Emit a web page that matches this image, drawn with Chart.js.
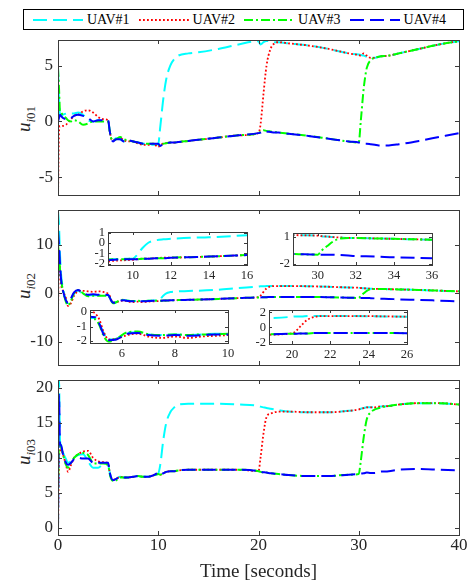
<!DOCTYPE html>
<html>
<head>
<meta charset="utf-8">
<script src="https://cdn.jsdelivr.net/npm/chart.js@4.4.0/dist/chart.umd.min.js"></script>
<style>
  body { margin: 0; background: #fff; }
  #fig { position: relative; width: 468px; height: 585px; overflow: hidden; font-family: "Liberation Serif", serif; color: #262626; }
  #fig canvas { position: absolute; }
  .ylab { position: absolute; left: 26px; transform: translate(-50%, -50%) rotate(-90deg); white-space: nowrap; font-size: 19px; }
  .ylab sub { font-size: 13px; }
  #legend { position: absolute; left: 23px; top: 9px; width: 430px; height: 19px; border: 1px solid #000; background: #fff;
            display: flex; align-items: center; gap: 9px; padding-left: 9px; font-size: 14px; color: #000; z-index: 5; }
  #legend .item { display: flex; align-items: center; gap: 4px; }
</style>
</head>
<body>
<div id="fig">
  <div id="legend"></div>
  <div class="ylab" style="top:119px"><i>u</i><sub><i>i</i>01</sub></div>
  <div class="ylab" style="top:286px"><i>u</i><sub><i>i</i>02</sub></div>
  <div class="ylab" style="top:452px"><i>u</i><sub><i>i</i>03</sub></div>
</div>
<script>
// time samples (seconds), shared by all series
const time = [0, 0.1, 0.2, 0.3, 0.5, 0.8, 1.0, 1.3, 1.6, 2.0,
              2.5, 3.0, 3.5, 4.0, 4.5, 5.0, 5.15, 5.3, 5.5, 5.8,
              6.2, 6.6, 7.0, 7.5, 8.0, 8.5, 9.0, 9.5, 10.0, 10.2,
              10.5, 10.8, 11.2, 11.6, 12.0, 13, 14, 16, 18, 20.0,
              20.2, 20.5, 20.8, 21.2, 21.6, 22, 23, 25, 27, 29,
              30.0, 30.2, 30.5, 30.8, 31.2, 31.6, 32, 33, 34, 36,
              38, 40];

// u_i01
const u1_uav1 = [4.8, 2.0, 0.6, 0.5, 0.6, 0.7, 0.75, 0.7, 0.7, 0.8,
                 0.6, 0.1, 0.0, 0.1, 0.0, 0.0, -0.8, -1.5, -1.7, -1.5,
                 -1.6, -1.8, -1.7, -1.8, -1.9, -2.0, -2.0, -2.1, -2.0, -0.5,
                 2.0, 3.8, 5.0, 5.6, 5.9, 6.1, 6.2, 6.5, 6.9, 7.2,
                 6.9, 7.1, 7.2, 7.2, 7.1, 7.1, 7.0, 6.8, 6.5, 6.1,
                 6.0, 5.95, 5.9, 5.8, 5.7, 5.7, 5.8, 5.9, 6.1, 6.5,
                 6.9, 7.2];
const u1_uav2 = [-7, -1.0, -0.4, -0.4, -0.4, -0.3, -0.1, 0.2, 0.5, 0.6,
                 0.9, 1.0, 0.8, 0.4, 0.2, 0.1, -0.8, -1.5, -1.7, -1.6,
                 -1.5, -1.7, -1.8, -1.8, -2.0, -2.1, -2.1, -2.0, -2.3, -2.1,
                 -2.0, -1.95, -1.9, -1.9, -1.85, -1.75, -1.65, -1.45, -1.25, -1.05,
                 -0.3, 2.5, 5.0, 6.5, 7.0, 7.1, 7.0, 6.8, 6.5, 6.1,
                 5.95, 5.9, 6.1, 5.9, 5.7, 5.7, 5.8, 5.9, 6.1, 6.5,
                 6.9, 7.2];
const u1_uav3 = [4.8, 3.0, 0.9, 0.8, 0.5, 0.3, 0.1, 0.0, 0.1, 0.0,
                 -0.3, -0.2, 0.0, 0.0, 0.0, 0.0, -0.8, -1.5, -1.7, -1.6,
                 -1.4, -1.6, -1.7, -1.8, -1.9, -2.0, -2.0, -2.0, -2.1, -2.0,
                 -2.0, -1.95, -1.9, -1.9, -1.85, -1.75, -1.65, -1.45, -1.25, -1.05,
                 -0.95, -0.8, -0.85, -0.9, -0.95, -1.0, -1.1, -1.3, -1.55, -1.8,
                 -1.9, 0.0, 3.0, 4.8, 5.5, 5.7, 5.8, 5.9, 6.1, 6.5,
                 6.9, 7.2];
const u1_uav4 = [0.0, 0.3, 0.6, 0.5, 0.3, 0.2, 0.2, 0.3, 0.5, 0.6,
                 0.5, 0.3, 0.0, 0.1, 0.1, 0.1, -0.8, -1.5, -1.8, -1.6,
                 -1.6, -1.8, -1.7, -1.8, -1.9, -2.0, -2.0, -2.0, -2.0, -2.2,
                 -2.0, -1.95, -1.9, -1.9, -1.85, -1.75, -1.65, -1.45, -1.25, -1.05,
                 -1.0, -0.85, -0.9, -0.95, -1.0, -1.0, -1.1, -1.3, -1.55, -1.8,
                 -1.9, -1.95, -2.0, -2.0, -2.05, -2.1, -2.15, -2.15, -2.05, -1.75,
                 -1.4, -1.05];

// u_i02
const u2_uav1 = [17, 14, 8, 4, 1, -1.5, -2.0, -1.2, 0.0, 0.6,
                 -0.2, -0.4, -0.4, -0.4, -0.4, -0.4, -0.8, -1.4, -1.9, -1.85,
                 -1.45, -1.4, -1.55, -1.6, -1.55, -1.6, -1.55, -1.5, -1.5, -1.2,
                 -0.5, 0.0, 0.25, 0.35, 0.4, 0.5, 0.55, 0.75, 1.1, 1.4,
                 1.45, 1.45, 1.5, 1.5, 1.5, 1.5, 1.5, 1.45, 1.35, 1.2,
                 1.15, 1.1, 1.05, 1.0, 0.95, 0.9, 0.9, 0.85, 0.8, 0.7,
                 0.55, 0.4];
const u2_uav2 = [-4, 7, 5, 2, 0.5, -1.0, -2.6, -2.0, -0.5, 0.4,
                 0.5, 0.4, 0.3, 0.4, 0.3, -0.1, -0.5, -1.3, -1.9, -1.85,
                 -1.6, -1.5, -1.7, -1.8, -1.7, -1.8, -1.7, -1.65, -1.6, -1.55,
                 -1.5, -1.5, -1.45, -1.4, -1.4, -1.35, -1.3, -1.15, -1.0, -0.8,
                 -0.5, 0.3, 1.0, 1.4, 1.5, 1.5, 1.5, 1.45, 1.35, 1.2,
                 1.15, 1.1, 1.05, 1.0, 0.95, 0.9, 0.9, 0.85, 0.8, 0.7,
                 0.55, 0.4];
const u2_uav3 = [10, 8, 5, 3, 0.5, -1.8, -2.5, -1.5, 0.0, 0.7,
                 0.0, -0.6, -0.5, -0.5, -0.5, -0.5, -0.9, -1.6, -2.05, -1.85,
                 -1.4, -1.35, -1.55, -1.6, -1.55, -1.6, -1.55, -1.55, -1.5, -1.55,
                 -1.5, -1.5, -1.45, -1.45, -1.4, -1.35, -1.3, -1.15, -1.0, -0.85,
                 -0.85, -0.8, -0.8, -0.75, -0.75, -0.75, -0.75, -0.75, -0.8, -0.9,
                 -0.95, -0.5, 0.0, 0.5, 0.85, 0.9, 0.9, 0.85, 0.8, 0.7,
                 0.55, 0.4];
const u2_uav4 = [13, 10, 6, 3, 0.5, -1.5, -2.0, -1.0, 0.2, 0.7,
                 0.1, -0.3, -0.2, -0.3, -0.3, -0.35, -0.8, -1.5, -1.95, -1.9,
                 -1.5, -1.45, -1.6, -1.65, -1.6, -1.65, -1.6, -1.55, -1.55, -1.55,
                 -1.5, -1.5, -1.45, -1.45, -1.4, -1.35, -1.3, -1.15, -1.0, -0.85,
                 -0.85, -0.8, -0.8, -0.75, -0.75, -0.75, -0.75, -0.75, -0.8, -0.9,
                 -0.95, -0.95, -0.95, -0.95, -1.0, -1.05, -1.1, -1.15, -1.25, -1.35,
                 -1.5, -1.65];

// u_i03
const u3_uav1 = [0, 21, 12.5, 11.8, 10.8, 9.8, 9.3, 9.5, 10.0, 10.4,
                 10.5, 9.5, 8.6, 8.6, 9.0, 9.0, 8.0, 7.2, 6.9, 7.0,
                 7.3, 7.2, 7.2, 7.3, 7.4, 7.3, 7.3, 7.5, 7.8, 9.0,
                 12.5, 15.0, 16.5, 17.2, 17.6, 17.7, 17.7, 17.7, 17.6, 17.4,
                 17.3, 17.2, 17.1, 17.0, 16.9, 16.8, 16.6, 16.5, 16.5, 16.7,
                 16.9, 17.0, 17.1, 17.2, 17.2, 17.2, 17.3, 17.4, 17.6, 17.8,
                 17.8, 17.6];
const u3_uav2 = [-1, 9.7, 11.0, 11.5, 10.5, 9.0, 8.0, 9.0, 10.0, 10.5,
                 10.9, 11.0, 10.0, 9.5, 9.4, 9.2, 8.0, 7.2, 6.9, 7.0,
                 7.3, 7.2, 7.2, 7.3, 7.4, 7.3, 7.3, 7.5, 7.7, 7.6,
                 7.8, 8.0, 8.1, 8.1, 8.2, 8.3, 8.3, 8.3, 8.3, 8.1,
                 10.0, 13.5, 15.8, 16.3, 16.5, 16.6, 16.6, 16.5, 16.5, 16.7,
                 16.9, 17.0, 17.1, 17.2, 17.2, 17.2, 17.3, 17.4, 17.6, 17.8,
                 17.8, 17.6];
const u3_uav3 = [5, 12, 12, 11.6, 10.5, 9.0, 8.6, 9.3, 10.0, 10.5,
                 10.7, 10.4, 9.3, 9.2, 9.2, 9.0, 7.8, 7.0, 6.7, 6.8,
                 7.2, 7.2, 7.2, 7.3, 7.4, 7.3, 7.3, 7.5, 7.7, 7.6,
                 7.8, 8.0, 8.1, 8.1, 8.2, 8.3, 8.3, 8.3, 8.3, 8.1,
                 8.0, 7.95, 7.9, 7.8, 7.75, 7.7, 7.55, 7.4, 7.4, 7.6,
                 7.7, 9.5, 13.0, 15.5, 16.5, 16.9, 17.1, 17.4, 17.6, 17.8,
                 17.8, 17.6];
const u3_uav4 = [0, 19, 12, 11.8, 10.5, 9.3, 9.0, 9.3, 9.8, 10.0,
                 9.9, 9.9, 9.3, 9.3, 9.3, 9.3, 8.0, 7.2, 6.8, 7.0,
                 7.3, 7.2, 7.2, 7.3, 7.4, 7.3, 7.3, 7.5, 7.8, 7.6,
                 7.8, 8.0, 8.1, 8.1, 8.2, 8.3, 8.3, 8.3, 8.3, 8.1,
                 8.0, 7.95, 7.9, 7.8, 7.75, 7.7, 7.55, 7.4, 7.4, 7.6,
                 7.7, 7.75, 7.8, 7.9, 7.85, 7.85, 8.0, 8.1, 8.3, 8.4,
                 8.3, 8.2];

const names = ['UAV#1', 'UAV#2', 'UAV#3', 'UAV#4'];
const colors = ['#00ffff', '#ff0000', '#00ff00', '#0000ff'];
const dashes = [[14, 6], [1.8, 2.2], [9, 3, 2, 3], [14, 6]];
const widths = [2, 1.8, 2, 2];

const xTicksMain = [0, 10, 20, 30, 40];
const yTicks1 = [-5, 0, 5];
const yTicks2 = [-10, 0, 10];
const yTicks3 = [0, 5, 10, 15, 20];

// legend
const legend = document.getElementById('legend');
names.forEach((n, k) => {
  const it = document.createElement('div');
  it.className = 'item';
  it.innerHTML = '<svg width="50" height="10"><line x1="0" y1="5" x2="50" y2="5" stroke="' + colors[k] +
    '" stroke-width="' + widths[k] + '" stroke-dasharray="' + dashes[k].join(' ') + '"/></svg><span>' + n + '</span>';
  legend.appendChild(it);
});

function datasets(group) {
  return group.map((vals, k) => ({
    label: names[k],
    data: time.map((t, i) => ({x: t, y: vals[i]})),
    borderColor: colors[k],
    borderWidth: widths[k],
    borderDash: dashes[k],
    pointRadius: 0,
    fill: false,
    cubicInterpolationMode: 'monotone',
    order: 4 - k
  }));
}

// box round the axes, inward ticks on all four sides, white inside
const axesBox = {
  id: 'axesBox',
  beforeDraw(chart) {
    const a = chart.chartArea, ctx = chart.ctx;
    ctx.save();
    ctx.fillStyle = '#fff';
    ctx.fillRect(a.left, a.top, a.right - a.left, a.bottom - a.top);
    ctx.restore();
  },
  afterDatasetsDraw(chart, args, opts) {
    const {ctx, chartArea: a, scales: {x, y}} = chart;
    const len = opts.len;
    ctx.save();
    ctx.strokeStyle = '#3a3a3a';
    ctx.lineWidth = 1;
    ctx.beginPath();
    x.ticks.forEach(t => {
      const px = Math.round(x.getPixelForValue(t.value)) + 0.5;
      ctx.moveTo(px, a.bottom); ctx.lineTo(px, a.bottom - len);
      ctx.moveTo(px, a.top); ctx.lineTo(px, a.top + len);
    });
    y.ticks.forEach(t => {
      const py = Math.round(y.getPixelForValue(t.value)) + 0.5;
      ctx.moveTo(a.left, py); ctx.lineTo(a.left + len, py);
      ctx.moveTo(a.right, py); ctx.lineTo(a.right - len, py);
    });
    ctx.stroke();
    ctx.strokeRect(Math.round(a.left) + 0.5, Math.round(a.top) + 0.5,
                   Math.round(a.right - a.left), Math.round(a.bottom - a.top));
    ctx.restore();
  }
};

// area = [left, top, right, bottom] of the axes on the page
// m = [y axis width, top pad, right pad, x axis height]
function plot(area, m, xr, xt, yr, yt, group, o) {
  const [l, t, r, b] = area, [yw, pt, pr, xh] = m;
  const cv = document.createElement('canvas');
  cv.width = r - l + yw + pr;
  cv.height = b - t + pt + xh;
  cv.style.left = (l - yw) + 'px';
  cv.style.top = (t - pt) + 'px';
  if (o.z) cv.style.zIndex = o.z;
  document.getElementById('fig').appendChild(cv);
  const font = {family: 'Liberation Serif', size: o.fs};
  return new Chart(cv, {
    type: 'line',
    data: {datasets: datasets(group)},
    options: {
      responsive: false, animation: false, devicePixelRatio: 1, events: [],
      layout: {padding: {top: pt, right: pr, left: 0, bottom: 0}},
      plugins: {legend: {display: false}, tooltip: {enabled: false}, axesBox: {len: o.tl}},
      scales: {
        x: {
          type: 'linear', min: xr[0], max: xr[1],
          afterBuildTicks: s => { s.ticks = xt.map(v => ({value: v})); },
          afterFit: s => { s.height = xh; s.paddingLeft = 0; s.paddingRight = 0; },
          grid: {display: false, drawTicks: false}, border: {display: false},
          ticks: {display: o.xl, font, color: '#262626', padding: o.xp, maxRotation: 0, autoSkip: false, callback: v => String(v)},
          title: o.title ? {display: true, text: o.title, font: {family: 'Liberation Serif', size: 19}, color: '#262626', padding: {top: 0, bottom: 2}} : {display: false}
        },
        y: {
          type: 'linear', min: yr[0], max: yr[1],
          afterBuildTicks: s => { s.ticks = yt.map(v => ({value: v})); },
          afterFit: s => { s.width = yw; s.paddingTop = 0; s.paddingBottom = 0; },
          grid: {display: false, drawTicks: false}, border: {display: false},
          ticks: {font, color: '#262626', padding: o.yp, autoSkip: false, callback: v => String(v)}
        }
      }
    },
    plugins: [axesBox]
  });
}

const g1 = [u1_uav1, u1_uav2, u1_uav3, u1_uav4];
const g2 = [u2_uav1, u2_uav2, u2_uav3, u2_uav4];
const g3 = [u3_uav1, u3_uav2, u3_uav3, u3_uav4];
const mainOpt = {fs: 17, xp: 0, yp: 5, tl: 4, xl: false};

plot([58, 40, 459, 195], [58, 8, 9, 10], [0, 40], xTicksMain, [-6.6, 7.3], yTicks1, g1, mainOpt);
plot([58, 210, 459, 365], [58, 8, 9, 10], [0, 40], xTicksMain, [-14.8, 17.2], yTicks2, g2, mainOpt);
plot([58, 380, 459, 535], [58, 8, 9, 50], [0, 40], xTicksMain, [-1, 21.1], yTicks3, g3,
     Object.assign({}, mainOpt, {xl: true, title: 'Time [seconds]'}));

// zoomed views of u_i02
const inOpt = {fs: 12.5, xp: 3, yp: 3, tl: 3, xl: true, z: 2};
plot([108, 232, 247, 265], [26, 6, 10, 22], [8.7, 16], [10, 12, 14, 16], [-2.1, 1.05], [-2, -1, 0, 1], g2, inOpt);
plot([293, 233, 432, 265], [26, 6, 10, 22], [28.7, 36], [30, 32, 34, 36], [-2.1, 1.45], [-2, 1], g2, inOpt);
plot([90, 310, 228, 343], [26, 6, 10, 22], [4.8, 10], [6, 8, 10], [-2.15, 0.15], [-2, -1, 0], g2, inOpt);
plot([269, 310, 407, 344], [26, 6, 10, 22], [18.8, 26], [20, 22, 24, 26], [-2.2, 2.3], [-2, 0, 2], g2, inOpt);
</script>
</body>
</html>
